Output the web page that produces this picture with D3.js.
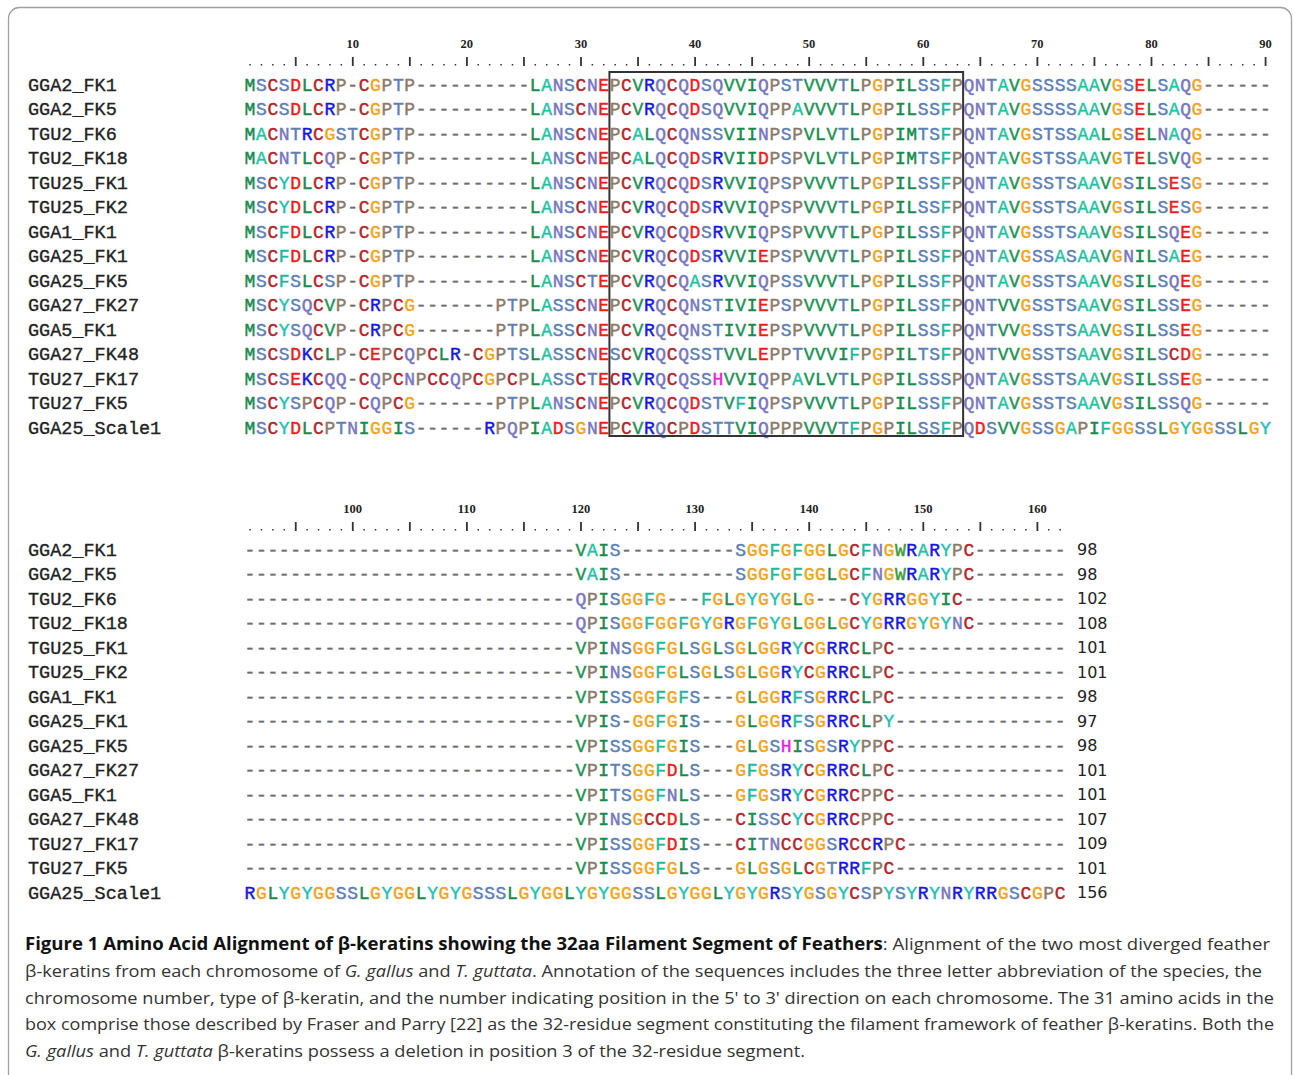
<!DOCTYPE html>
<html>
<head>
<meta charset="utf-8">
<script src="https://cdn.jsdelivr.net/npm/d3@7"></script>
<style>
  body { margin: 0; background: #fff; }
  svg { display: block; }
</style>
</head>
<body>
<script>
// sequence names, in display order
var names = ["GGA2_FK1", "GGA2_FK5", "TGU2_FK6", "TGU2_FK18", "TGU25_FK1", "TGU25_FK2",
  "GGA1_FK1", "GGA25_FK1", "GGA25_FK5", "GGA27_FK27", "GGA5_FK1", "GGA27_FK48",
  "TGU27_FK17", "TGU27_FK5", "GGA25_Scale1"];

// alignment columns 1-90 (spaces are only for reading, removed below)
var block1 = [
  "MSCSDLCRP-CGPTP---------- LANSCNE PCVRQCQDSQVVIQPSTVVVTLPGPILSSFP QNTAVGSSSSAAVGSELSAQG------",
  "MSCSDLCRP-CGPTP---------- LANSCNE PCVRQCQDSQVVIQPPAVVVTLPGPILSSFP QNTAVGSSSSAAVGSELSAQG------",
  "MACNTRCGSTCGPTP---------- LANSCNE PCALQCQNSSVIINPSPVLVTLPGPIMTSFP QNTAVGSTSSAALGSELNAQG------",
  "MACNTLCQP-CGPTP---------- LANSCNE PCALQCQDSRVIIDPSPVLVTLPGPIMTSFP QNTAVGSTSSAAVGTELSVQG------",
  "MSCYDLCRP-CGPTP---------- LANSCNE PCVRQCQDSRVVIQPSPVVVTLPGPILSSFP QNTAVGSSTSAAVGSILSESG------",
  "MSCYDLCRP-CGPTP---------- LANSCNE PCVRQCQDSRVVIQPSPVVVTLPGPILSSFP QNTAVGSSTSAAVGSILSESG------",
  "MSCFDLCRP-CGPTP---------- LANSCNE PCVRQCQDSRVVIQPSPVVVTLPGPILSSFP QNTAVGSSTSAAVGSILSQEG------",
  "MSCFDLCRP-CGPTP---------- LANSCNE PCVRQCQDSRVVIEPSPVVVTLPGPILSSFP QNTAVGSSASAAVGNILSAEG------",
  "MSCFSLCSP-CGPTP---------- LANSCTE PCVRQCQASRVVIQPSSVVVTLPGPILSSFP QNTAVGSSTSAAVGSILSQEG------",
  "MSCYSQCVP-CRPCG-------PTP LASSCNE PCVRQCQNSTIVIEPSPVVVTLPGPILSSFP QNTVVGSSTSAAVGSILSSEG------",
  "MSCYSQCVP-CRPCG-------PTP LASSCNE PCVRQCQNSTIVIEPSPVVVTLPGPILSSFP QNTVVGSSTSAAVGSILSSEG------",
  "MSCSDKCLP-CEPCQPCLR-CGPTS LASSCNE SCVRQCQSSTVVLEPPTVVVIFPGPILTSFP QNTVVGSSTSAAVGSILSCDG------",
  "MSCSEKCQQ-CQPCNPCCQPCGPCP LASSCTE CRVRQCQSSHVVIQPPAVLVTLPGPILSSSP QNTAVGSSTSAAVGSILSSEG------",
  "MSCYSPCQP-CQPCG-------PTP LANSCNE PCVRQCQDSTVFIQPSPVVVTLPGPILSSFP QNTAVGSSTSAAVGSILSSQG------",
  "MSCYDLCPTNIGGIS------RPQP IADSGNE PCVRQCPDSTTVIQPPPVVVTFPGPILSSFP QDSVVGSSGAPIFGGSSLGYGGSSLGY"
];

// alignment columns 91-162
var block2 = [
  "---------- ---------- --------- VAIS ---------- SGGFGFGGLGCFNGWRARYPC --------",
  "---------- ---------- --------- VAIS ---------- SGGFGFGGLGCFNGWRARYPC --------",
  "---------- ---------- --------- QPISGGFG --- FGLGYGYGLG --- CYGRRGGYIC ---------",
  "---------- ---------- --------- QPISGGFGGFGYGRGFGYGLGGLGCYGRRGYGYNC --------",
  "---------- ---------- --------- VPINSGGFGLSGLSGLGGRYCGRRCLPC ---------- -----",
  "---------- ---------- --------- VPINSGGFGLSGLSGLGGRYCGRRCLPC ---------- -----",
  "---------- ---------- --------- VPISSGGFGFS --- GLGGRFSGRRCLPC ---------- -----",
  "---------- ---------- --------- VPIS-GGFGIS --- GLGGRFSGRRCLPY ---------- -----",
  "---------- ---------- --------- VPISSGGFGIS --- GLGSHISGSRYPPC ---------- -----",
  "---------- ---------- --------- VPITSGGFDLS --- GFGSRYCGRRCLPC ---------- -----",
  "---------- ---------- --------- VPITSGGFNLS --- GFGSRYCGRRCPPC ---------- -----",
  "---------- ---------- --------- VPINSGCCDLS --- CISSCYCGRRCPPC ---------- -----",
  "---------- ---------- --------- VPISSGGFDIS --- CITNCCGGSRCCRPC ---------- ----",
  "---------- ---------- --------- VPISSGGFGLS --- GLGSGLCGTRRFPC ---------- -----",
  "RGLYGYGGSS LGYGGLYGYG SSSLGYGGLY GYGGSSLGYG GLYGYGRSYG SGYCSPYSYR YNRYRRGSCGPC"
];

// residue counts at the end of each sequence
var counts = [98, 98, 102, 108, 101, 101, 98, 97, 98, 101, 101, 107, 109, 101, 156];

// ruler labels
var ruler1 = [10, 20, 30, 40, 50, 60, 70, 80, 90];
var ruler2 = [100, 110, 120, 130, 140, 150, 160];

// boxed filament segment (columns, block 1)
var boxCols = [33, 63];

var width = 1294, height = 1075;
var pitch = 11.41;

var colors = {
  A: "#1ec3a3", F: "#1cb8a0", Y: "#1cc0b4", W: "#3b9c3b",
  G: "#f2a41c", P: "#8b7a6a", S: "#5d7fb5", T: "#5d7fb5",
  N: "#7675c0", Q: "#7675c0",
  L: "#178a4c", I: "#178a4c", V: "#1d9256", M: "#178a4c",
  R: "#1616e4", K: "#1616e4", H: "#e620e6",
  D: "#f01c1c", E: "#f01c1c", C: "#b2262b", "-": "#6e6e6e"
};

var svg = d3.select("body")
    .append("svg")
    .attr("width", width)
    .attr("height", height);

// frame
svg.append("rect")
    .attr("x", 8.5).attr("y", 7.5)
    .attr("width", 1283).attr("height", 1080)
    .attr("rx", 11)
    .attr("fill", "none")
    .attr("stroke", "#a0a0a0")
    .attr("stroke-width", 1.3);

function drawBlock(rows, start, end, labels, rowTop, rowBottom, rulerY, last) {
  var xScale = d3.scaleLinear()
      .domain([start, start + 89])
      .range([250, 250 + 89 * pitch]);
  var yScale = d3.scalePoint()
      .domain(names)
      .range([rowTop, rowBottom]);

  var g = svg.append("g");

  // ruler numbers
  g.selectAll(".num")
    .data(labels)
    .enter()
    .append("text")
    .attr("x", function(d) { return xScale(d); })
    .attr("y", rulerY - 14)
    .attr("text-anchor", "middle")
    .style("font-family", "Liberation Serif")
    .style("font-weight", "bold")
    .style("font-size", "12.5px")
    .attr("fill", "#222")
    .text(function(d) { return d; });

  // ruler dots and ticks
  var cols = d3.range(start, end + 1);
  g.selectAll(".rdot")
    .data(cols.filter(function(c) { return c % 5 != 0; }))
    .enter()
    .append("rect")
    .attr("x", function(d) { return xScale(d) - 0.7; })
    .attr("y", rulerY + 2)
    .attr("width", 1.5).attr("height", 1.5)
    .attr("fill", "#333");
  g.selectAll(".rtick")
    .data(cols.filter(function(c) { return c % 5 == 0; }))
    .enter()
    .append("rect")
    .attr("x", function(d) { return xScale(d) - 0.8; })
    .attr("y", rulerY - 5)
    .attr("width", 1.8).attr("height", 9)
    .attr("fill", "#333");

  rows.forEach(function(row, i) {
    var seq = row.replace(/ /g, "").split("");
    var y = yScale(names[i]);

    // name
    g.append("text")
      .attr("x", 28)
      .attr("y", y + 6.5)
      .style("font-family", "Liberation Mono")
      .style("font-size", "18.5px")
      .attr("fill", "#222")
      .attr("stroke", "#222")
      .attr("stroke-width", 0.35)
      .text(names[i]);

    g.append("g")
      .selectAll("text")
      .data(seq)
      .enter()
      .append("text")
      .attr("x", function(d, j) { return xScale(start + j); })
      .attr("y", y + 6.5)
      .attr("text-anchor", "middle")
      .style("font-family", "Liberation Mono")
      .style("font-size", "18px")
      .attr("fill", function(d) { return colors[d] || "#333"; })
      .attr("stroke", function(d) { return colors[d] || "#333"; })
      .attr("stroke-width", 0.45)
      .text(function(d) { return d; });

    if (last) {
      g.append("text")
        .attr("x", 1077)
        .attr("y", y + 6)
        .style("font-family", "DejaVu Sans")
        .style("font-size", "16px")
        .attr("fill", "#222")
        .text(counts[i]);
    }
  });

  return { x: xScale, y: yScale };
}

var b1 = drawBlock(block1, 1, 90, ruler1, 84, 427, 62, false);
drawBlock(block2, 91, 162, ruler2, 549, 892, 527, true);

// box around the filament segment
svg.append("rect")
    .attr("x", b1.x(boxCols[0]) - pitch / 2)
    .attr("y", b1.y(names[0]) - 12)
    .attr("width", b1.x(boxCols[1]) - b1.x(boxCols[0]) + pitch)
    .attr("height", b1.y(names[names.length - 1]) - b1.y(names[0]) + 21)
    .attr("fill", "none")
    .attr("stroke", "#333")
    .attr("stroke-width", 2);

// caption
var caption = [
  { w: 1245, parts: [
      { t: "Figure 1 Amino Acid Alignment of \u03b2-keratins showing the 32aa Filament Segment of Feathers", b: true },
      { t: ": Alignment of the two most diverged feather" }] },
  { w: 1237, parts: [
      { t: "\u03b2-keratins from each chromosome of " }, { t: "G. gallus", i: true }, { t: " and " },
      { t: "T. guttata", i: true },
      { t: ". Annotation of the sequences includes the three letter abbreviation of the species, the" }] },
  { w: 1249, parts: [
      { t: "chromosome number, type of \u03b2-keratin, and the number indicating position in the 5' to 3' direction on each chromosome. The 31 amino acids in the" }] },
  { w: 1249, parts: [
      { t: "box comprise those described by Fraser and Parry [22] as the 32-residue segment constituting the filament framework of feather \u03b2-keratins. Both the" }] },
  { w: 780, parts: [
      { t: "G. gallus", i: true }, { t: " and " }, { t: "T. guttata", i: true },
      { t: " \u03b2-keratins possess a deletion in position 3 of the 32-residue segment." }] }
];

caption.forEach(function(line, k) {
  var t = svg.append("text")
    .attr("x", 25)
    .attr("y", 950 + k * 26.8)
    .attr("textLength", line.w)
    .attr("lengthAdjust", "spacingAndGlyphs")
    .style("font-family", "Open Sans")
    .style("font-size", "17px")
    .attr("fill", "#333");
  line.parts.forEach(function(p) {
    t.append("tspan")
      .style("font-weight", p.b ? "bold" : "normal")
      .style("font-style", p.i ? "italic" : "normal")
      .attr("fill", p.b ? "#111" : "#333")
      .text(p.t);
  });
});
</script>
</body>
</html>
